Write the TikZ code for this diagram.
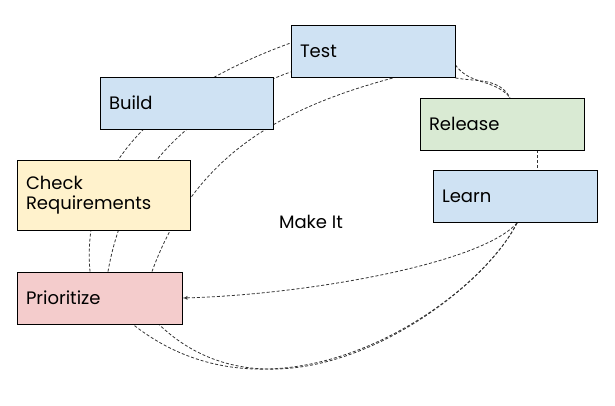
\documentclass[tikz,border=0pt]{standalone}
\usepackage{fontspec}
\setmainfont{Poppins}
\usepackage{xcolor}
\definecolor{PLANCOLOR}{HTML}{CFE2F3}
\definecolor{SHIPCOLOR}{HTML}{D9EAD3}
\definecolor{CHECKCOLOR}{HTML}{FFF2CC}
\definecolor{RANKCOLOR}{HTML}{F4CCCC}
\definecolor{LINKCOLOR}{HTML}{333333}
\usepackage{tikz}
\usetikzlibrary{arrows,positioning,calc,backgrounds}
\tikzset{
  basic-style/.style = {
    rectangle, draw, line width=0.9pt,
    fill=#1,
    minimum height=52pt,
    minimum width=164pt,
    text width=146pt,
    align=left,
    inner sep=0pt,
    font=\stepFont
  },
  plan-style/.style = {
    basic-style=PLANCOLOR
  },
  wideplan-style/.style = {
    basic-style=PLANCOLOR,
    minimum width=173pt,
    text width=155pt
  },
  ship-style/.style = {
    basic-style=SHIPCOLOR
  },
  check-style/.style = {
    basic-style=CHECKCOLOR,
    minimum width=173pt,
    text width=155pt,
    minimum height=70pt
  },
  rank-style/.style = {
    basic-style=RANKCOLOR,
    minimum width=165pt,
    text width=147pt
  },
  title-style/.style = {
    font=\stepFont, inner sep=0pt
  },
  link-style/.style = {
    draw=LINKCOLOR, line width=0.8pt, dash pattern=on 3pt off 2pt
  },
  every edge/.style = {link-style}
}
\newcommand\stepFont{\fontsize{18}{20.6}\selectfont}
\def\createStep name:#1 display:#2 style:#3 at:#4;{
  \node [#3-style] (#1) at (#4) {#2};
}

\begin{document}
\begin{tikzpicture}[x=1pt,y=1pt]
    \useasboundingbox (0,0) rectangle (615,-405);

    \createStep name:test display:{Test} style:plan at:{373,-51.5};
    \createStep name:build display:{Build} style:wideplan at:{186.5,-103};
    \createStep name:release display:{Release} style:ship at:{502,-124};
    \createStep name:check display:{Check\\Requirements} style:check at:{103.5,-195};
    \createStep name:learn display:{Learn} style:plan at:{515,-196.5};
    \createStep name:prioritize display:{Prioritize} style:rank at:{99.5,-298};

    \node[title-style] (makeit) at (311,-222) {Make It};

    \begin{pgfonlayer}{background}
      % left side, behind the boxes
      \path ([xshift=-9.5pt]prioritize.north) edge[out=95,in=200] ([yshift=8.5pt]test.west);
      \path ([xshift=8.5pt]prioritize.north) edge[out=80,in=200] ([yshift=-20.5pt]test.west);
      \path ([xshift=52.5pt]prioritize.north) edge[out=70,in=195] ([xshift=20pt]test.south);
      % right side
      \path ([yshift=-13.5pt]test.east) edge[out=-55,in=130] ([xshift=8pt]release.north);
      \path (test.south east) edge[out=-10,in=120] ([xshift=8pt]release.north);
      \path ([xshift=35pt]release.south) edge ([xshift=35pt]release.south |- learn.north);
      % back to the start
      \draw[link-style,->,>=latex'] ([xshift=2pt]learn.south)
        .. controls +(-37,-42) and +(118,3) .. (prioritize.east);
      \draw[link-style] ([xshift=2pt]learn.south)
        .. controls +(-40,-80) and +(147,-116) .. ([xshift=33.5pt]prioritize.south);
      \draw[link-style] ([xshift=2pt]learn.south)
        .. controls +(-40,-80) and +(121,-116) .. ([xshift=59.5pt]prioritize.south);
    \end{pgfonlayer}
  \end{tikzpicture}
\end{document}
